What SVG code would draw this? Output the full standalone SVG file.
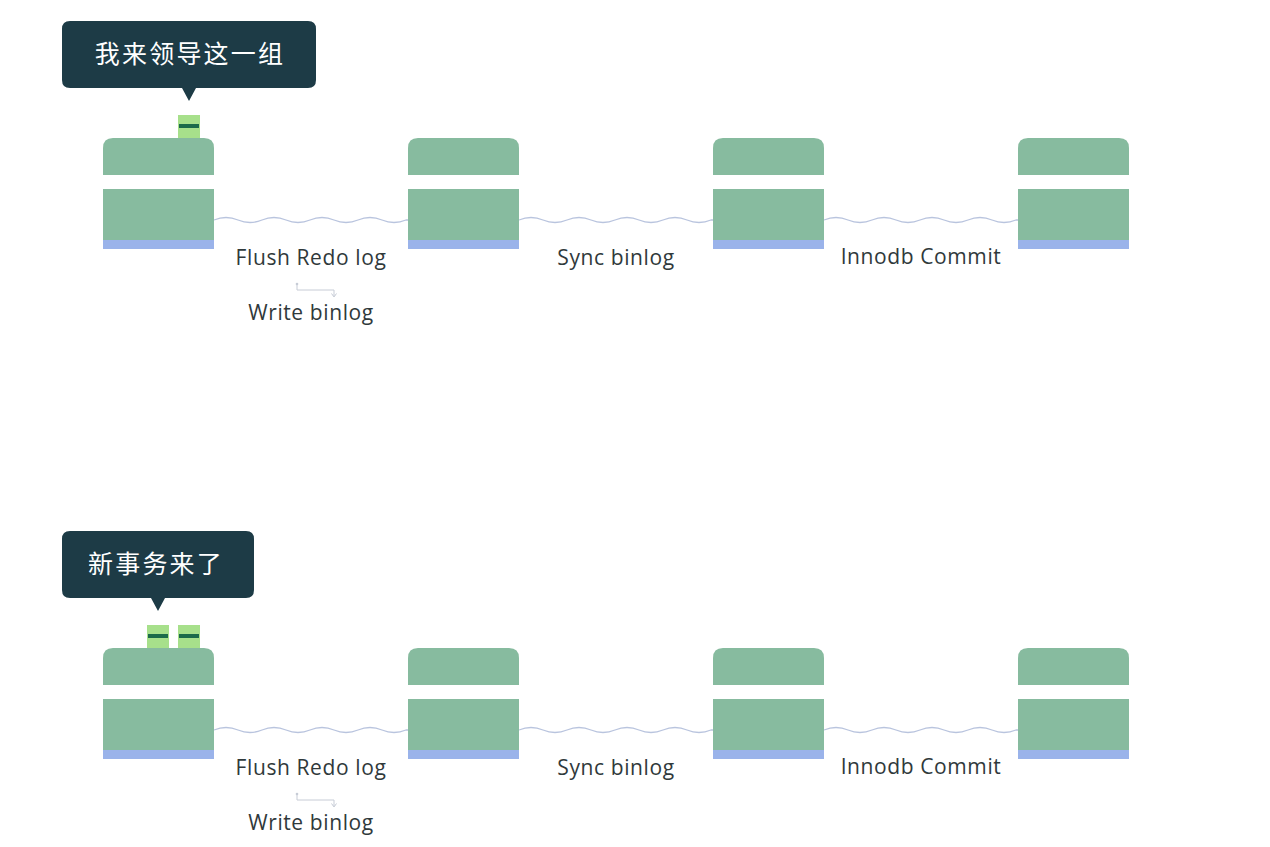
<svg xmlns="http://www.w3.org/2000/svg" xmlns:xlink="http://www.w3.org/1999/xlink" width="1270" height="847" viewBox="0 0 1270 847">
<style>
.g{fill:#87bb9f}
.b{fill:#9ab3ea}
.tip{fill:#1d3b46}
.tt{font-family:"Noto Sans CJK SC","Noto Sans",sans-serif;font-size:25px;fill:#ffffff;text-anchor:middle;letter-spacing:2.2px}
.lbl{font-family:"Open Sans","Noto Sans",sans-serif;font-size:21px;fill:#30393b;text-anchor:middle;letter-spacing:0.6px}
.wave{fill:none;stroke:#b9c4de;stroke-width:1.3}
.blk{fill:#a7e08b}
.stripe{fill:#1b6a4a}
.mini{fill:none;stroke:#c7ccd6;stroke-width:1}
</style>
<defs>
<g id="nodeShape">
<path class="g" d="M0 37 V10 Q0 0 10 0 H101 Q111 0 111 10 V37 Z"/>
<rect class="g" x="0" y="51" width="111" height="51"/>
<rect class="b" x="0" y="102" width="111" height="9"/>
</g>
<path id="waveSeg" class="wave" d="M0 220 q12 -5 24 0 t24 0 t24 0 t24 0 t24 0 t24 0 t24 0 t24 0 L194 220"/>
<g id="blockShape">
<rect class="blk" x="0" y="0" width="22" height="23"/>
<rect class="stripe" x="1" y="9" width="20" height="4"/>
</g>
</defs>
<rect width="1270" height="847" fill="#ffffff"/>

<!-- Top scenario -->
<g id="connectors-top">
<use xlink:href="#waveSeg" href="#waveSeg" x="214" y="0"/>
<use xlink:href="#waveSeg" href="#waveSeg" x="519" y="0"/>
<use xlink:href="#waveSeg" href="#waveSeg" x="824" y="0"/>
<circle cx="297" cy="284" r="1.3" fill="#c7ccd6"/>
<path class="mini" d="M297 285 V290 H334 V296"/>
<path d="M331.5 293.5 L334 297 L336.5 293.5" fill="none" stroke="#c7ccd6" stroke-width="1"/>
</g>
<g id="node1-top"><use xlink:href="#nodeShape" href="#nodeShape" transform="translate(103,138)"/></g>
<g id="node2-top"><use xlink:href="#nodeShape" href="#nodeShape" transform="translate(408,138)"/></g>
<g id="node3-top"><use xlink:href="#nodeShape" href="#nodeShape" transform="translate(713,138)"/></g>
<g id="node4-top"><use xlink:href="#nodeShape" href="#nodeShape" transform="translate(1018,138)"/></g>
<g id="block-top-1"><use xlink:href="#blockShape" href="#blockShape" transform="translate(178,115)"/></g>
<g id="tooltip-top">
<path class="tip" d="M70 21 H308 Q316 21 316 29 V80 Q316 88 308 88 H196 L189 101 L182 88 H70 Q62 88 62 80 V29 Q62 21 70 21 Z"/>
<text class="tt" x="190" y="63">我来领导这一组</text>
</g>
<g id="labels-top">
<text class="lbl" x="311" y="265">Flush Redo log</text>
<text class="lbl" x="311" y="320">Write binlog</text>
<text class="lbl" x="616" y="265">Sync binlog</text>
<text class="lbl" x="921" y="264">Innodb Commit</text>
</g>

<!-- Bottom scenario -->
<g id="connectors-bottom">
<use xlink:href="#waveSeg" href="#waveSeg" x="214" y="510"/>
<use xlink:href="#waveSeg" href="#waveSeg" x="519" y="510"/>
<use xlink:href="#waveSeg" href="#waveSeg" x="824" y="510"/>
<circle cx="297" cy="794" r="1.3" fill="#c7ccd6"/>
<path class="mini" d="M297 795 V800 H334 V806"/>
<path d="M331.5 803.5 L334 807 L336.5 803.5" fill="none" stroke="#c7ccd6" stroke-width="1"/>
</g>
<g id="node1-bottom"><use xlink:href="#nodeShape" href="#nodeShape" transform="translate(103,648)"/></g>
<g id="node2-bottom"><use xlink:href="#nodeShape" href="#nodeShape" transform="translate(408,648)"/></g>
<g id="node3-bottom"><use xlink:href="#nodeShape" href="#nodeShape" transform="translate(713,648)"/></g>
<g id="node4-bottom"><use xlink:href="#nodeShape" href="#nodeShape" transform="translate(1018,648)"/></g>
<g id="block-bottom-1"><use xlink:href="#blockShape" href="#blockShape" transform="translate(147,625)"/></g>
<g id="block-bottom-2"><use xlink:href="#blockShape" href="#blockShape" transform="translate(178,625)"/></g>
<g id="tooltip-bottom">
<path class="tip" d="M70 531 H246 Q254 531 254 539 V590 Q254 598 246 598 H165 L158 611 L151 598 H70 Q62 598 62 590 V539 Q62 531 70 531 Z"/>
<text class="tt" x="156" y="573">新事务来了</text>
</g>
<g id="labels-bottom">
<text class="lbl" x="311" y="775">Flush Redo log</text>
<text class="lbl" x="311" y="830">Write binlog</text>
<text class="lbl" x="616" y="775">Sync binlog</text>
<text class="lbl" x="921" y="774">Innodb Commit</text>
</g>
</svg>
